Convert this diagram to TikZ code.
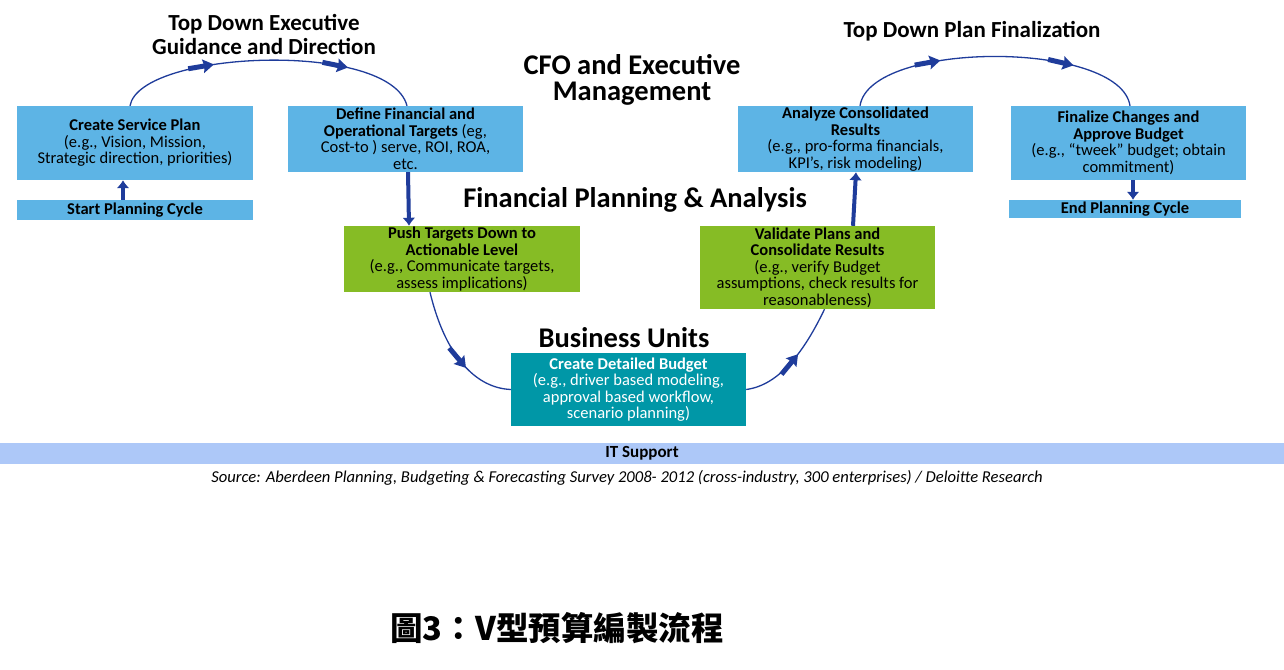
\documentclass[tikz,border=0pt]{standalone}
\usepackage{fontspec}
\setmainfont{Carlito}
\newfontfamily\cjk{Noto Sans CJK TC}
\usetikzlibrary{arrows.meta,decorations.markings}
\definecolor{lblue}{HTML}{5DB4E5}
\definecolor{lgreen}{HTML}{86BC25}
\definecolor{teal2}{HTML}{0097A7}
\definecolor{itbar}{HTML}{ADC8F8}
\definecolor{arr}{HTML}{1F3C9B}
\begin{document}
\begin{tikzpicture}[x=1pt,y=-1pt,
 box/.style={rectangle,inner sep=0pt,align=center,font=\fontsize{16.5}{16.5}\selectfont},
 ttl/.style={align=center,font=\fontsize{23}{24}\selectfont\bfseries},
 big/.style={align=center,font=\fontsize{28.5}{26}\selectfont\bfseries},
 con/.style={draw=arr,line width=1.3pt},
 mk/.style={postaction={decorate,decoration={markings,mark=at position #1 with {\fill[arr] (-20pt,-2.5pt) -- (-4pt,-2.5pt) -- (-5pt,-7pt) -- (6pt,0) -- (-5pt,7pt) -- (-4pt,2.5pt) -- (-20pt,2.5pt) -- cycle;}}}},
 blk/.style={draw=arr,line width=4pt,-{Latex[length=8pt,width=13pt]}}]
\useasboundingbox (0,0) rectangle (1284,669);
\fill[white] (0,0) rectangle (1284,669);
% boxes
\node[box,fill=lblue,minimum width=236,minimum height=74] (csp) at (135,143) {\textbf{Create Service Plan}\\(e.g., Vision, Mission,\\Strategic direction, priorities)};
\node[box,fill=lblue,minimum width=236,minimum height=20] (start) at (135,210) {\textbf{Start Planning Cycle}};
\node[box,fill=lblue,minimum width=235,minimum height=66] (def) at (405.5,139) {\textbf{Define Financial and}\\\textbf{Operational Targets} (eg,\\Cost-to ) serve, ROI, ROA,\\etc.};
\node[box,fill=lgreen,minimum width=236,minimum height=66] (push) at (462,259) {\textbf{Push Targets Down to}\\\textbf{Actionable Level}\\(e.g., Communicate targets,\\assess implications)};
\node[box,fill=teal2,text=white,minimum width=235,minimum height=73] (cdb) at (628.5,389.5) {\textbf{Create Detailed Budget}\\(e.g., driver based modeling,\\approval based workflow,\\scenario planning)};
\node[box,fill=lgreen,minimum width=235,minimum height=83] (val) at (817.5,267.5) {\textbf{Validate Plans and}\\\textbf{Consolidate Results}\\(e.g., verify Budget\\assumptions, check results for\\reasonableness)};
\node[box,fill=lblue,minimum width=235,minimum height=66] (ana) at (855.5,139) {\textbf{Analyze Consolidated}\\\textbf{Results}\\(e.g., pro-forma financials,\\KPI's, risk modeling)};
\node[box,fill=lblue,minimum width=235,minimum height=74] (fin) at (1128.5,143) {\textbf{Finalize Changes and}\\\textbf{Approve Budget}\\(e.g., ``tweek'' budget; obtain\\commitment)};
\node[box,fill=lblue,minimum width=232,minimum height=18] (end) at (1125,209) {\textbf{End Planning Cycle}};
\node[box,fill=itbar,minimum width=1284,minimum height=21,font=\fontsize{17}{17}\selectfont\bfseries] (it) at (642,453.5) {IT Support};
% titles
\node[ttl] (t1) at (264,34) {Top Down Executive\\Guidance and Direction};
\node[ttl] (t2) at (972,31) {Top Down Plan Finalization};
\node[big] (cfo) at (632,80) {CFO and Executive\\Management};
\node[big] (fpa) at (635,200) {Financial Planning \& Analysis};
\node[big] (bu) at (624,338) {Business Units};
\node[font=\fontsize{16.6}{17}\selectfont\itshape] (src) at (627,478) {Source: Aberdeen Planning, Budgeting \& Forecasting Survey 2008- 2012 (cross-industry, 300 enterprises) / Deloitte Research};
\node[font=\fontsize{32.5}{34}\selectfont\bfseries\cjk] (cap) at (557,628) {圖3：V型預算編製流程};
% connectors
\draw[con,mk=0.3,mk=0.74] ([xshift=-5pt]csp.north) .. controls (140,50) and (390,40) .. ([xshift=1.5pt]def.north);
\draw[con,mk=0.3,mk=0.74] ([xshift=4.5pt]ana.north) .. controls (870,40) and (1120,40) .. ([xshift=1.5pt]fin.north);
\draw[con,mk=0.58] ([xshift=-32pt]push.south) .. controls (445,355) and (475,388) .. (cdb.west);
\draw[con,mk=0.5] (cdb.east) .. controls (780,385) and (805,350) .. ([xshift=7pt]val.south);
\draw[blk] (start.north -| 123,0) -- (csp.south -| 123,0);
\draw[blk] (def.south -| 408,0) -- (push.north -| 409,0);
\draw[blk] (val.north -| 853,0) -- (ana.south -| 856,0);
\draw[blk] (fin.south -| 1133,0) -- (end.north -| 1133,0);
\end{tikzpicture}
\end{document}
